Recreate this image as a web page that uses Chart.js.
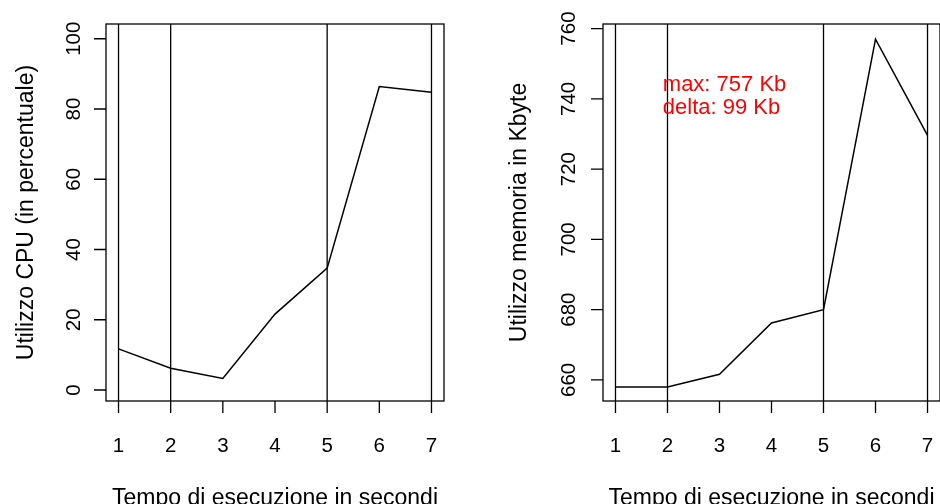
<!DOCTYPE html>
<html>
<head>
<meta charset="utf-8">
<script src="https://cdn.jsdelivr.net/npm/chart.js@4.4.1/dist/chart.umd.min.js"></script>
<style>
  body { margin: 0; background: #fff; }
  .riga { display: flex; width: 940px; height: 504px; }
  .cella { position: relative; width: 470px; height: 504px; }
</style>
</head>
<body>
<div class="riga">
  <div class="cella"><canvas id="graficoCpu"></canvas></div>
  <div class="cella"><canvas id="graficoMem"></canvas></div>
</div>
<script>
// Dati
const secondi = [1, 2, 3, 4, 5, 6, 7];
const cpuValori = [11.7, 6.2, 3.3, 21.6, 34.7, 86.4, 84.8];
const memValori = [658, 658, 661.6, 676.2, 680, 757, 729.6];
const cpuTicks = [0, 20, 40, 60, 80, 100];
const memTicks = [660, 680, 700, 720, 740, 760];
const lineeVerticali = [1, 2, 5, 7];
const notaMemoria = ['max: 757 Kb', 'delta: 99 Kb'];

const FONT = '"Liberation Sans", Arial, Helvetica, sans-serif';

// Disegna assi in stile R (box, tacche, etichette ruotate, titoli)
const stileR = {
    id: 'stileR',
    beforeDatasetsDraw(chart, args, opts) {
        const { ctx, chartArea: a } = chart;
        const x = chart.scales.x;
        ctx.save();
        ctx.strokeStyle = '#000';
        ctx.lineWidth = 1.3;
        lineeVerticali.forEach(v => {
            const px = x.getPixelForValue(v);
            ctx.beginPath();
            ctx.moveTo(px, a.top);
            ctx.lineTo(px, a.bottom);
            ctx.stroke();
        });
        ctx.restore();
    },
    afterDraw(chart, args, opts) {
        const { ctx, chartArea: a } = chart;
        const x = chart.scales.x;
        const y = chart.scales.y;
        ctx.save();
        ctx.strokeStyle = '#000';
        ctx.fillStyle = '#000';
        ctx.lineWidth = 1.3;

        // box
        ctx.strokeRect(a.left, a.top, a.right - a.left, a.bottom - a.top);

        // asse x
        const tacca = 12;
        ctx.beginPath();
        secondi.forEach(v => {
            const px = x.getPixelForValue(v);
            ctx.moveTo(px, a.bottom);
            ctx.lineTo(px, a.bottom + tacca);
        });
        ctx.stroke();
        ctx.font = '20.5px ' + FONT;
        ctx.textAlign = 'center';
        ctx.textBaseline = 'alphabetic';
        secondi.forEach(v => {
            ctx.fillText(String(v), x.getPixelForValue(v), a.bottom + 50.5);
        });

        // asse y
        ctx.beginPath();
        opts.ticks.forEach(v => {
            const py = y.getPixelForValue(v);
            ctx.moveTo(a.left, py);
            ctx.lineTo(a.left - tacca, py);
        });
        ctx.stroke();
        opts.ticks.forEach(v => {
            const py = y.getPixelForValue(v);
            ctx.save();
            ctx.translate(a.left - opts.distTick, py);
            ctx.rotate(-Math.PI / 2);
            ctx.fillText(String(v), 0, 0);
            ctx.restore();
        });

        // titoli
        ctx.font = '23px ' + FONT;
        ctx.fillText('Tempo di esecuzione in secondi', (a.left + a.right) / 2, 504.5);
        ctx.save();
        ctx.translate(opts.titoloY, (a.top + a.bottom) / 2);
        ctx.rotate(-Math.PI / 2);
        ctx.fillText(opts.titolo, 0, 0);
        ctx.restore();

        // nota in rosso
        if (opts.nota) {
            ctx.font = '22px ' + FONT;
            ctx.fillStyle = '#ff0000';
            ctx.textAlign = 'left';
            const nx = x.getPixelForValue(opts.nota.x);
            const ny = y.getPixelForValue(opts.nota.y);
            opts.nota.righe.forEach((r, i) => ctx.fillText(r, nx, ny + i * 22.5));
        }
        ctx.restore();
    }
};

function creaGrafico(id, valori, yMin, yMax, padding, extra) {
    return new Chart(document.getElementById(id), {
        type: 'line',
        data: {
            datasets: [{
                data: secondi.map((s, i) => ({ x: s, y: valori[i] })),
                borderColor: '#000',
                borderWidth: 1.5,
                pointRadius: 0,
                tension: 0,
                fill: false
            }]
        },
        options: {
            responsive: false,
            animation: false,
            devicePixelRatio: 1,
            layout: { padding },
            plugins: {
                legend: { display: false },
                tooltip: { enabled: false },
                stileR: extra
            },
            scales: {
                x: { type: 'linear', min: 0.76, max: 7.24, display: false },
                y: { type: 'linear', min: yMin, max: yMax, display: false }
            }
        },
        plugins: [stileR]
    });
}

document.getElementById('graficoCpu').width = 470;
document.getElementById('graficoCpu').height = 504;
document.getElementById('graficoMem').width = 470;
document.getElementById('graficoMem').height = 504;

creaGrafico('graficoCpu', cpuValori, -3.13, 104.2,
    { left: 106, right: 26, top: 24, bottom: 103 },
    { ticks: cpuTicks, titolo: 'Utilizzo CPU (in percentuale)', titoloY: 33, distTick: 26 });

creaGrafico('graficoMem', memValori, 654.0, 761.3,
    { left: 133, right: 0, top: 24, bottom: 103 },
    { ticks: memTicks, titolo: 'Utilizzo memoria in Kbyte', titoloY: 56, distTick: 28,
      nota: { x: 1.91, y: 742.1, righe: notaMemoria } });
</script>
</body>
</html>
